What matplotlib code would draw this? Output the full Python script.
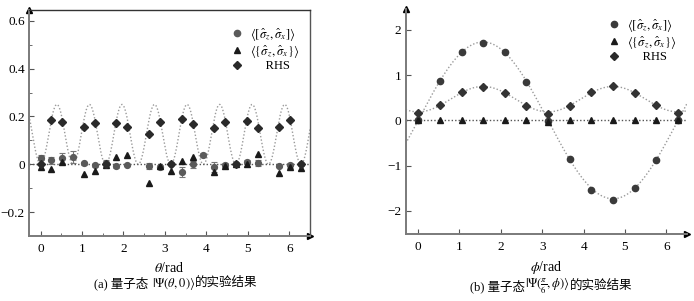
import numpy as np
import matplotlib
matplotlib.use("Agg")
import matplotlib.pyplot as plt
from matplotlib.lines import Line2D

plt.rcParams['font.family'] = ['Liberation Serif', 'Noto Sans CJK SC', 'DejaVu Sans']
plt.rcParams['mathtext.fontset'] = 'stix'

nan = np.nan
# ---------------- panel (a): |Psi(theta, 0)> ----------------
theta_a = [0.00, 0.26, 0.52, 0.79, 1.05, 1.31, 1.57, 1.83, 2.09, 2.36, 2.62, 2.88, 3.14,
           3.40, 3.67, 3.93, 4.19, 4.45, 4.71, 4.97, 5.24, 5.50, 5.76, 6.02, 6.28]
comm_a = [0.028, 0.017, 0.027, 0.030, 0.004, -0.004, 0.005, -0.007, -0.003, nan, -0.007, -0.011, 0.002,
          -0.033, 0.000, 0.038, -0.012, -0.004, 0.003, 0.008, 0.006, nan, -0.007, -0.004, 0.000]
err_a = [0.010, 0.015, 0.020, 0.025, 0.006, 0.006, 0.012, 0.010, 0.006, nan, 0.012, 0.008, 0.006,
         0.020, 0.015, 0.008, 0.020, 0.008, 0.006, 0.008, 0.012, nan, 0.006, 0.010, 0.006]
anti_a = [-0.010, -0.020, 0.008, nan, -0.040, -0.030, -0.002, 0.032, 0.040, nan, -0.080, -0.007, -0.028,
          0.013, 0.030, nan, -0.034, -0.008, 0.000, 0.003, 0.042, nan, -0.036, -0.011, -0.014]
rhs_a = [0.000, 0.186, 0.175, nan, 0.155, 0.172, 0.000, 0.173, 0.156, nan, 0.128, 0.178, 0.000,
         0.190, 0.168, nan, 0.150, 0.178, 0.002, 0.182, 0.152, nan, 0.157, 0.185, 0.000]
rhs_amp_a = 0.25          # theory: amp * sin^2(4 theta)

# ---------------- panel (b): |Psi(pi/6, phi)> ----------------
phi_b = [0.00, 0.52, 1.05, 1.57, 2.09, 2.62, 3.14, 3.67, 4.19, 4.71, 5.24, 5.76, 6.28]
comm_b = [0.00, 0.87, 1.52, 1.72, 1.50, 0.85, -0.02, -0.85, -1.53, -1.76, -1.50, -0.88, 0.00]
anti_b = [0.01, 0.00, 0.00, 0.00, 0.00, 0.00, -0.03, 0.00, 0.00, 0.00, 0.00, 0.00, 0.00]
rhs_b = [0.155, 0.33, 0.62, 0.73, 0.60, 0.32, 0.15, 0.31, 0.62, 0.765, 0.60, 0.33, 0.16]
comm_amp_b = 1.732        # theory: amp * sin(phi)
rhs_min_b, rhs_max_b = 0.1875, 0.75   # theory: min + (max-min) sin^2(phi)

labels = [r'$\langle[\hat{\sigma}_z,\hat{\sigma}_x]\rangle$',
          r'$\langle\{\hat{\sigma}_z,\hat{\sigma}_x\}\rangle$',
          '     RHS']
caption_a = ['(a) 量子态 ', r'$|\Psi(\theta,0)\rangle$', '的实验结果']
caption_b = ['(b) 量子态', r'$|\Psi(\frac{\pi}{6},\phi)\rangle$', '的实验结果']

fig = plt.figure(figsize=(6.94, 3.01), dpi=100)
axA = fig.add_axes([29/694, 1-236/301, 281/694, 226/301])
axB = fig.add_axes([405.7/694, 1-234/301, 281.3/694, 225/301])

spine_col = '#7a7a7a'
theory_col = '#9a9a9a'
zero_col = '#555555'


def style(ax, box):
    for s in ['top', 'right']:
        ax.spines[s].set_visible(box)
    for s in ax.spines.values():
        s.set_color(spine_col)
        s.set_linewidth(1.4)
    if box:
        ax.spines['top'].set_linewidth(1.0)
        ax.spines['top'].set_color('#333333')
        ax.spines['right'].set_linewidth(1.0)
        ax.spines['right'].set_color('#555555')
    ax.tick_params(which='both', direction='in', color='#555555', labelsize=9.5,
                   top=False, right=False)
    ax.tick_params(which='major', length=3.5, width=0.8)
    ax.tick_params(axis='x', which='major', pad=5)
    ax.tick_params(axis='y', which='major', pad=3)
    ax.tick_params(which='minor', length=2, width=0.6)
    ax.plot([0], [1], marker='^', color='black', markersize=5, transform=ax.transAxes, clip_on=False)
    ax.plot([1], [0], marker='>', color='black', markersize=5, transform=ax.transAxes, clip_on=False)


# ---------- panel A ----------
axA.set_xlim(-0.28, 6.5)
axA.set_ylim(-0.30, 0.645)
xx = np.linspace(-0.28, 6.5, 800)
axA.plot(xx, rhs_amp_a * np.sin(4 * xx) ** 2, color=theory_col, lw=1.0, ls=(0, (1, 1.5)))
axA.axhline(0, color=zero_col, lw=1.0, ls=(0, (1, 1.5)))
axA.errorbar(theta_a, comm_a, yerr=err_a, fmt='o', color='#5a5a5a', ms=4.2, ecolor='#777777',
             elinewidth=0.8, capsize=2, capthick=0.8, zorder=3)
axA.plot(theta_a, anti_a, '^', color='#1a1a1a', ms=4.5, zorder=4)
axA.plot(theta_a, rhs_a, 'D', color='#2a2a2a', ms=3.8, zorder=4)
axA.set_xticks([0, 1, 2, 3, 4, 5, 6])
axA.set_yticks([-0.2, 0, 0.2, 0.4, 0.6])
axA.set_yticklabels(['\u22120.2', '0', '0.2', '0.4', '0.6'])
axA.set_xticks(np.arange(0.5, 6.5, 1.0), minor=True)
axA.set_yticks([-0.1, 0.1, 0.3, 0.5], minor=True)
style(axA, True)
axA.set_xlabel(r'$\theta$/rad', fontsize=10, labelpad=4)

# ---------- panel B ----------
axB.set_xlim(-0.30, 6.5)
axB.set_ylim(-2.51, 2.46)
xx = np.linspace(-0.30, 6.5, 800)
axB.plot(xx, comm_amp_b * np.sin(xx), color=theory_col, lw=1.0, ls=(0, (1, 1.5)))
axB.plot(xx, rhs_min_b + (rhs_max_b - rhs_min_b) * np.sin(xx) ** 2, color=theory_col, lw=1.0,
         ls=(0, (1, 1.5)))
axB.axhline(0, color=zero_col, lw=1.0, ls=(0, (1, 1.5)))
axB.plot(phi_b, comm_b, 'o', color='#3a3a3a', ms=4.5, zorder=3)
axB.plot(phi_b, anti_b, '^', color='#1a1a1a', ms=4.5, zorder=4)
axB.plot(phi_b, rhs_b, 'D', color='#333333', ms=3.8, zorder=4)
axB.set_xticks([0, 1, 2, 3, 4, 5, 6])
axB.set_yticks([-2, -1, 0, 1, 2])
axB.set_yticklabels(['\u22122', '\u22121', '0', '1', '2'])
style(axB, False)
axB.set_xlabel(r'$\phi$/rad', fontsize=10, labelpad=4)

# legends
def legend(ax, anchor, c_col):
    h = [Line2D([], [], ls='none', marker='o', color=c_col, ms=4.5),
         Line2D([], [], ls='none', marker='^', color='#1a1a1a', ms=4.5),
         Line2D([], [], ls='none', marker='D', color='#2a2a2a', ms=3.8)]
    ax.legend(h, labels, loc='upper left', bbox_to_anchor=anchor, frameon=False, fontsize=9,
              handlelength=0.9, handletextpad=0.6, labelspacing=0.02, borderaxespad=0,
              borderpad=0.4)

legend(axA, ((226 - 29) / 281, (236 - 21) / 226), '#5a5a5a')
legend(axB, ((603 - 405.7) / 281.3, (234 - 12) / 225), '#3a3a3a')

# captions built from pieces (CJK text + mathtext) centred at a given x
renderer = fig.canvas.get_renderer()


def caption(pieces, xc, yc):
    texts = [fig.text(0, 1 - yc / 301, p, ha='left', va='center', fontsize=9) for p in pieces]
    widths = [t.get_window_extent(renderer).width for t in texts]
    x = xc - sum(widths) / 2
    for t, w in zip(texts, widths):
        t.set_x(x / 694)
        x += w


caption(caption_a, 176, 283)
caption(caption_b, 551, 286)

fig.savefig('out.png', dpi=100)
